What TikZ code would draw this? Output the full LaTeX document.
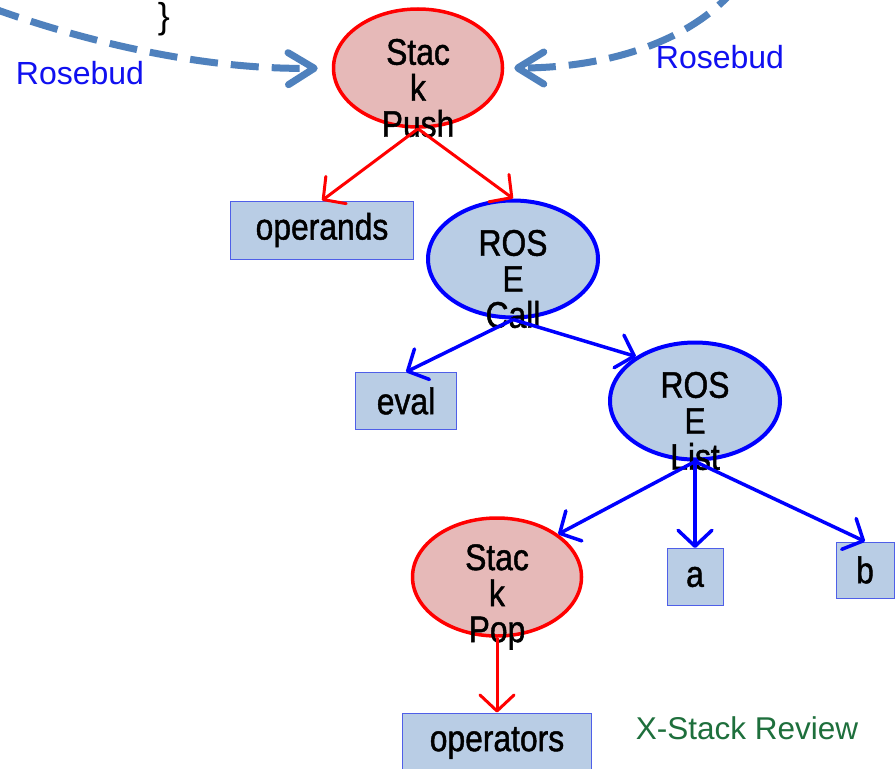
\documentclass[tikz,border=0pt]{standalone}
\usepackage{fontspec}
\setmainfont{Liberation Sans}
\newfontfamily\narrowsans[FakeStretch=0.86, FakeBold=1.2]{Liberation Sans}
\usepackage{xcolor}
\usepackage{tikz}
\usetikzlibrary{arrows.meta,shapes.geometric}
\definecolor{mStackRed}{HTML}{FF0000}
\definecolor{mStackFill}{HTML}{E6B9B8}
\definecolor{mRoseBlue}{HTML}{0000FF}
\definecolor{mBoxFill}{HTML}{B9CDE5}
\definecolor{mBoxLine}{HTML}{4F5FE8}
\definecolor{mDashBlue}{HTML}{4F81BD}
\definecolor{mLabelBlue}{HTML}{1010F0}
\definecolor{mReviewGreen}{HTML}{1E6F3C}

\begin{document}
\begin{tikzpicture}[x=1pt, y=-1pt,
  nodetext/.style={font=\narrowsans\fontsize{37}{36}\selectfont, align=center},
  optext/.style={nodetext, yshift=-20pt},
  stackop/.style={ellipse, draw=mStackRed, line width=3.5pt, fill=mStackFill, minimum width=169pt, minimum height=118pt, inner sep=0pt},
  roseop/.style={ellipse, draw=mRoseBlue, line width=4pt, fill=mBoxFill, minimum width=170pt, minimum height=117pt, inner sep=0pt},
  leaf/.style={draw=mBoxLine, line width=1pt, fill=mBoxFill, inner sep=0pt, nodetext},
  redarrow/.style={-{Straight Barb[length=16pt, width=34pt, round]}, draw=mStackRed, line width=3pt},
  bluearrow/.style={-{Straight Barb[length=16pt, width=34pt, round]}, draw=mRoseBlue, line width=3.5pt},
  rosebud/.style={-{Straight Barb[length=26pt, width=32pt, round]}, draw=mDashBlue, line width=7pt, dash pattern=on 28pt off 13pt},
  budlabel/.style={text=mLabelBlue, font=\fontsize{32}{34}\selectfont}
]
\useasboundingbox (0,0) rectangle (896,768);
\fill[white] (0,0) rectangle (896,768);
\clip (0,0) rectangle (896,768);
% operations
\node[stackop, label={[optext]center:{Stac\\k\\Push}}] (push) at (418,68) {};
\node[roseop, label={[optext]center:{ROS\\E\\Call}}] (call) at (513,259) {};
\node[roseop, label={[optext]center:{ROS\\E\\List}}] (list) at (695,401) {};
\node[stackop, label={[optext]center:{Stac\\k\\Pop}}] (pop) at (497,577) {};
% operands
\node[leaf, minimum width=183pt, minimum height=58pt] (operands) at (322,230) {operands};
\node[leaf, minimum width=101pt, minimum height=57pt] (eval) at (406,401) {eval};
\node[leaf, minimum width=56pt, minimum height=57pt] (a) at (695,577) {a};
\node[leaf, minimum width=58pt, minimum height=56pt] (b) at (865,570) {b};
\node[leaf, minimum width=189pt, minimum height=60pt] (operators) at (497,743) {operators};
\draw[redarrow] (push.south) -- (operands.north);
\draw[redarrow] (push.south) -- (call.north);
\draw[bluearrow] (call.south) -- (eval.north);
\draw[bluearrow] (call.south) -- (list.143);
\draw[bluearrow] (list.south) -- (pop.35);
\draw[bluearrow] (list.south) -- (a.north);
\draw[bluearrow] (list.south) -- (b.north);
\draw[redarrow] (pop.south) -- (operators.north);
% rosebud links
\coordinate (lefttail) at (-8,8);
\coordinate (righttail) at (738,-15);
\draw[rosebud, shorten >=14pt] (lefttail) .. controls (80,40) and (200,70) .. (push.west);
\draw[rosebud, shorten >=10pt] (righttail) .. controls (690,45) and (600,68) .. (push.east);
\node[budlabel] (budleft) at (80,73) {Rosebud};
\node[budlabel] (budright) at (720,57) {Rosebud};
\node[font=\fontsize{36}{40}\selectfont] (brace) at (164,19) {\}};
\node[text=mReviewGreen, font=\fontsize{31.5}{34}\selectfont] (review) at (747,728) {X-Stack Review};
\end{tikzpicture}
\end{document}
